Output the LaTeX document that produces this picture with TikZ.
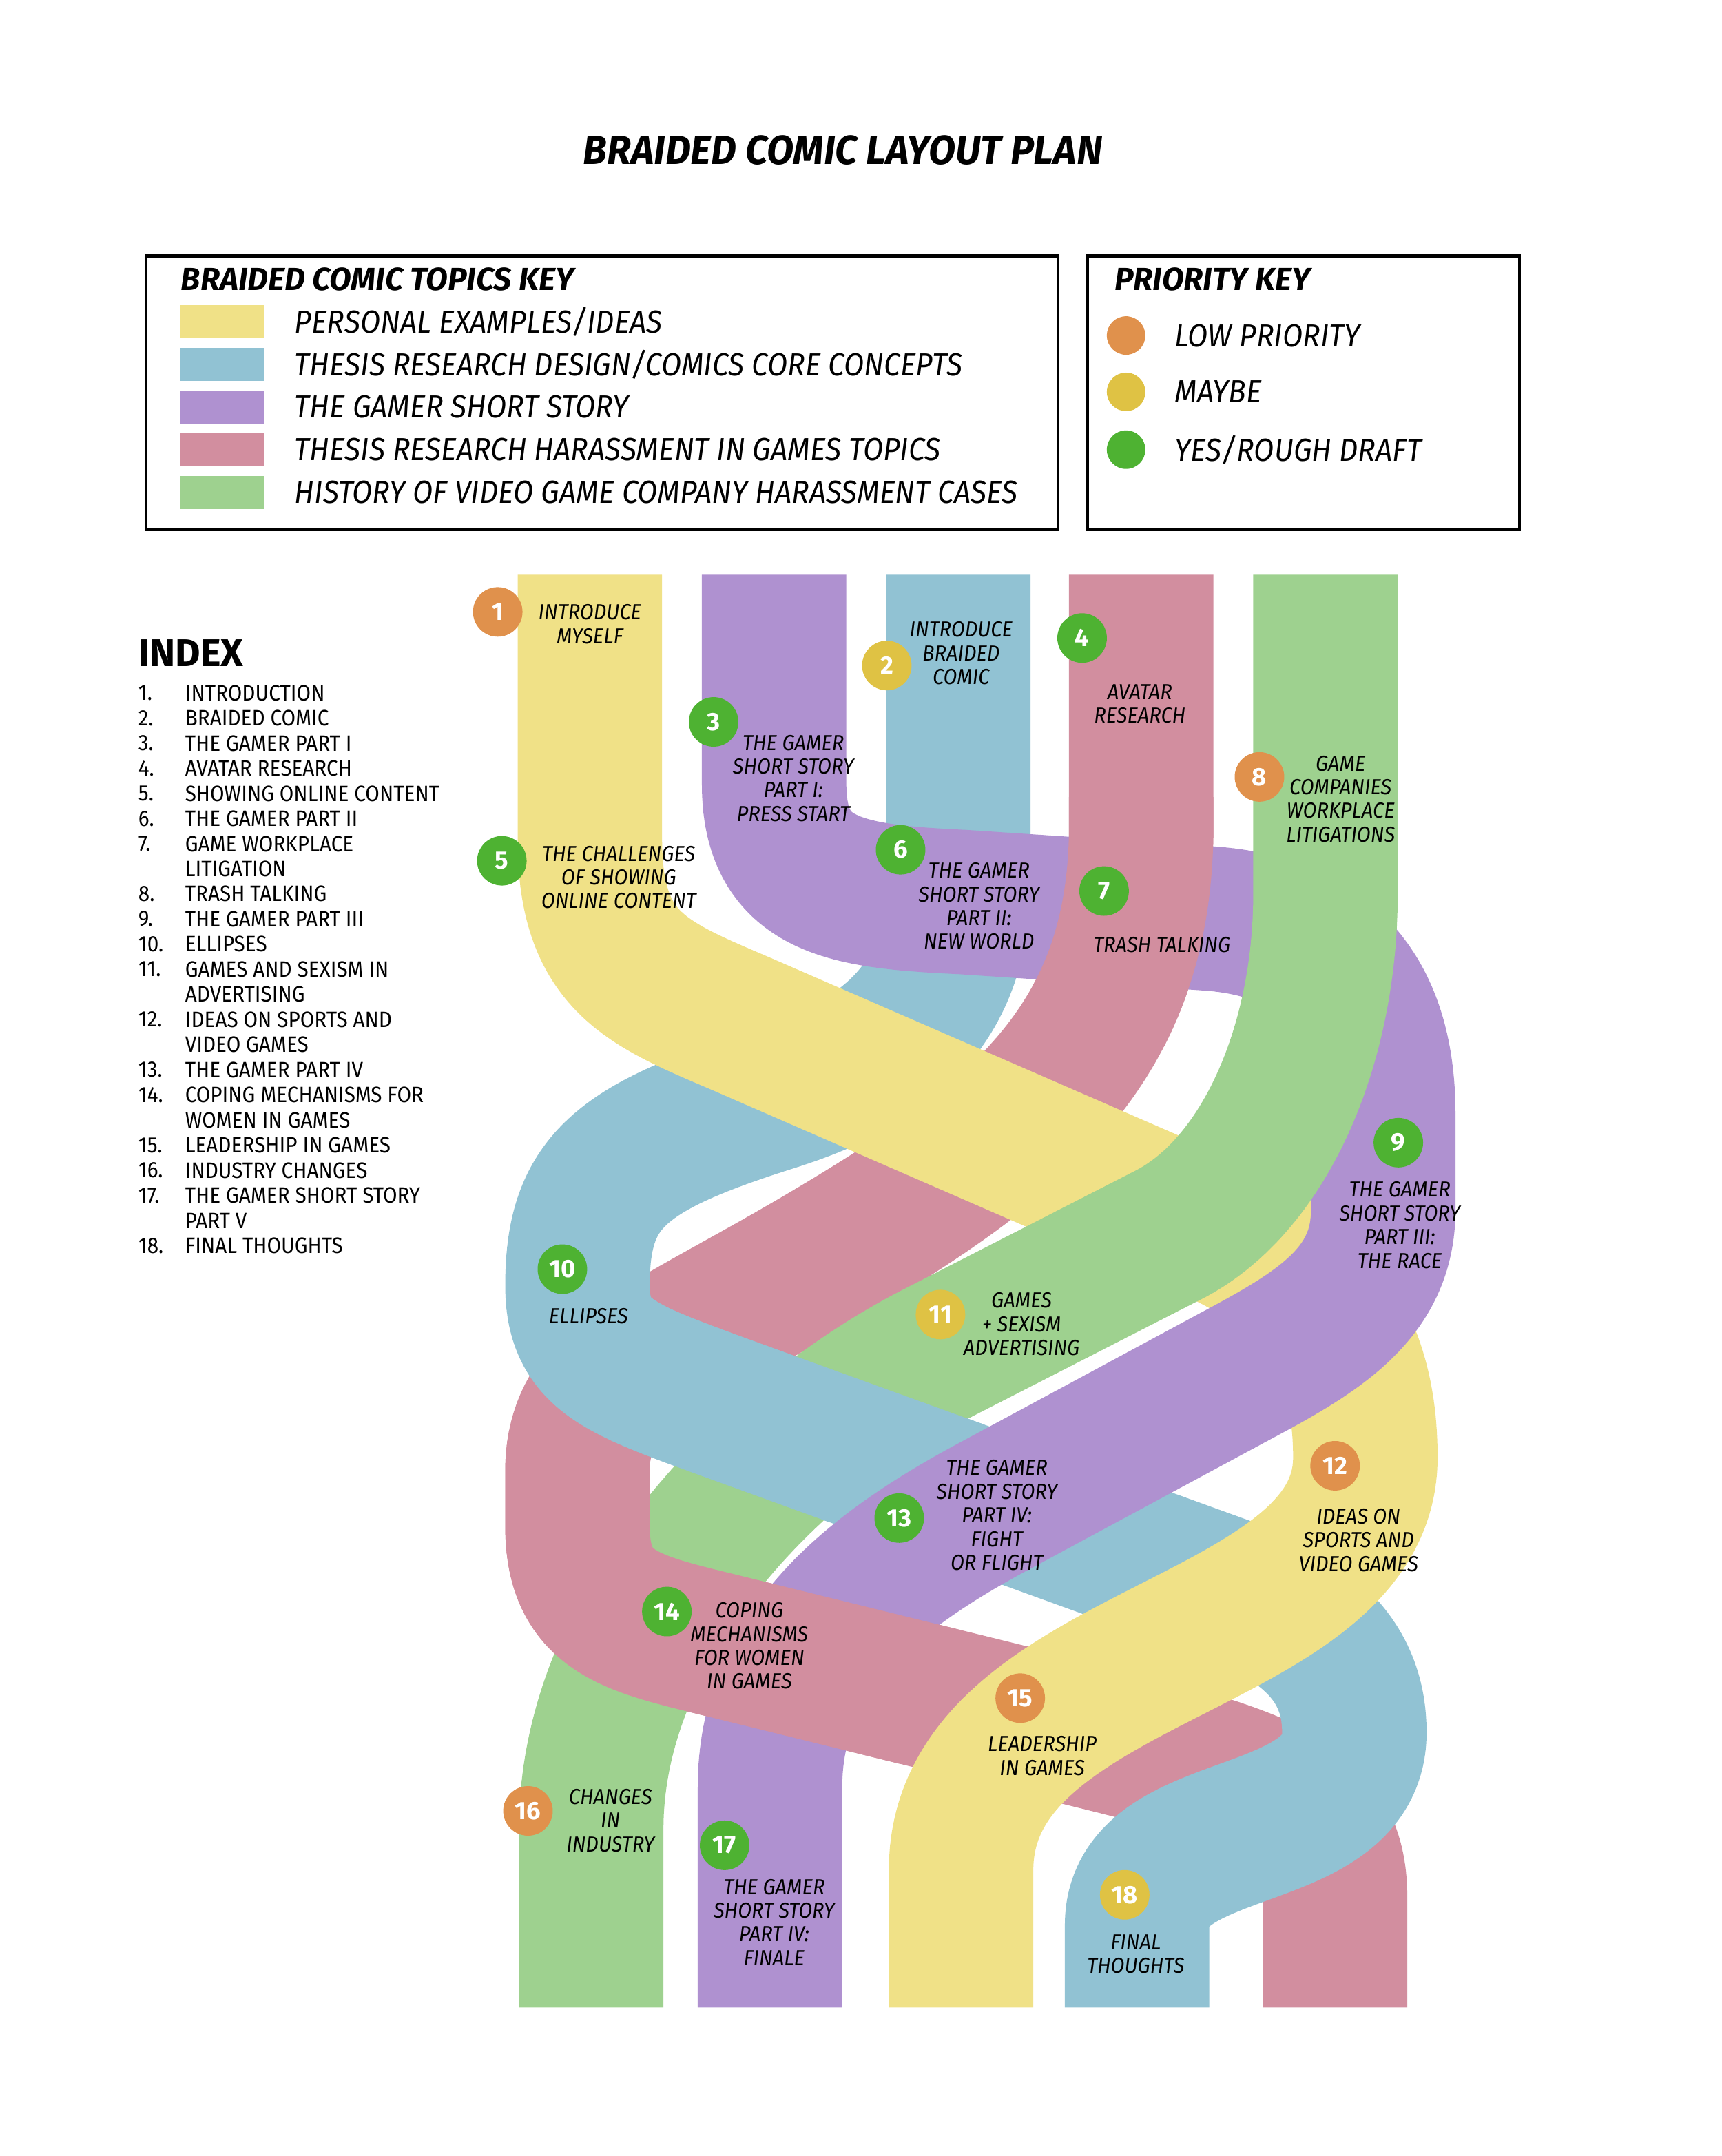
\documentclass[tikz,border=0pt]{standalone}
\usepackage{fontspec}
\setmainfont{Fira Sans}
\usetikzlibrary{positioning}
\usepackage{xcolor}
\definecolor{ryellow}{HTML}{F0E187}
\definecolor{rblue}{HTML}{91C2D3}
\definecolor{rpurple}{HTML}{AF91D0}
\definecolor{rpink}{HTML}{D28E9F}
\definecolor{rgreen}{HTML}{9ED18F}
\definecolor{plow}{HTML}{E0914C}
\definecolor{pmaybe}{HTML}{DFC244}
\definecolor{pyes}{HTML}{4EB232}
\tikzset{
  ribbon/.style={line width=10.5mm,line cap=butt,line join=round},
  badge/.style={circle,minimum size=3.6mm,inner sep=0pt,text=white,font=\fontsize{5.2}{5.2}\selectfont\bfseries},
  lbl/.style={align=center,inner sep=0pt,xscale=0.92,font=\fontsize{4.5}{4.9}\selectfont\itshape},
  maintitle/.style={inner sep=0pt,xscale=0.97,font=\fontsize{8.4}{9}\selectfont\bfseries\itshape},
  keybox/.style={draw,line width=0.6pt,anchor=north west,inner sep=0pt},
  keyhead/.style={anchor=west,inner sep=0pt,xscale=1.0,font=\fontsize{6.6}{7}\selectfont\bfseries\itshape},
  keytxt/.style={anchor=west,inner sep=0pt,xscale=0.92,font=\fontsize{6.6}{7}\selectfont\itshape},
  swatch/.style={minimum width=6.1mm,minimum height=2.4mm,inner sep=0pt},
  pdot/.style={circle,minimum size=2.8mm,inner sep=0pt},
  idxhead/.style={anchor=west,inner sep=0pt,xscale=1.0,font=\fontsize{8}{8.5}\selectfont\bfseries},
  idx/.style={anchor=west,inner sep=0pt,xscale=0.92,font=\fontsize{4.6}{5}\selectfont}
}
\newcommand\pathYellow{(429,418) -- (429,610) .. controls (429,700) and (470,715) .. (540,745) -- (880,893) .. controls (960,928) and (993,980) .. (993,1060) .. controls (993,1200) and (699,1200) .. (699,1360) -- (699,1460)}
\newcommand\pathBlue{(697,418) -- (697,640) .. controls (697,735) and (640,775) .. (560,800) .. controls (450,835) and (420,860) .. (420,935) .. controls (420,985) and (450,995) .. (520,1021) -- (890,1155) .. controls (960,1180) and (985,1215) .. (985,1260) .. controls (985,1345) and (827,1320) .. (827,1400) -- (827,1460)}
\newcommand\pathPurple{(563,418) -- (563,570) .. controls (563,645) and (615,652) .. (700,656) -- (880,668) .. controls (975,675) and (1006,735) .. (1006,810) -- (1006,880) .. controls (1006,940) and (960,968) .. (900,1000) -- (720,1097) .. controls (620,1151) and (560,1210) .. (560,1300) -- (560,1460)}
\newcommand\pathPink{(830,418) -- (830,600) .. controls (830,760) and (740,830) .. (600,913) .. controls (480,984) and (420,1000) .. (420,1070) -- (420,1110) .. controls (420,1175) and (462,1181) .. (530,1198) -- (790,1262) .. controls (920,1294) and (971,1310) .. (971,1380) -- (971,1460)}
\newcommand\pathGreen{(964,418) -- (964,650) .. controls (964,760) and (920,862) .. (850,898) -- (680,985) .. controls (560,1047) and (430,1180) .. (430,1330) -- (430,1460)}

\begin{document}
\begin{tikzpicture}[x=0.01cm,y=-0.01cm]
    \useasboundingbox (0,0) rectangle (1252,1568);
    \node[maintitle] (title) at (613,109) {BRAIDED COMIC LAYOUT PLAN};

    \node[keybox,minimum width=6.63cm,minimum height=1.99cm] (topics) at (105,185) {};
    \node[keyhead] (topicshead) at (131,203) {BRAIDED COMIC TOPICS KEY};
    \node[swatch,fill=ryellow] (s1) at (161.5,234) {};
    \node[swatch,fill=rblue] (s2) at (161.5,265) {};
    \node[swatch,fill=rpurple] (s3) at (161.5,296) {};
    \node[swatch,fill=rpink] (s4) at (161.5,327) {};
    \node[swatch,fill=rgreen] (s5) at (161.5,358) {};
    \node[keytxt,right=2.1mm of s1] (k1) {PERSONAL EXAMPLES/IDEAS};
    \node[keytxt,right=2.1mm of s2] (k2) {THESIS RESEARCH DESIGN/COMICS CORE CONCEPTS};
    \node[keytxt,right=2.1mm of s3] (k3) {THE GAMER SHORT STORY};
    \node[keytxt,right=2.1mm of s4] (k4) {THESIS RESEARCH HARASSMENT IN GAMES TOPICS};
    \node[keytxt,right=2.1mm of s5] (k5) {HISTORY OF VIDEO GAME COMPANY HARASSMENT CASES};

    \node[keybox,minimum width=3.14cm,minimum height=1.99cm] (priority) at (790,185) {};
    \node[keyhead] (priohead) at (810,203) {PRIORITY KEY};
    \node[pdot,fill=plow] (p1) at (819,244) {};
    \node[pdot,fill=pmaybe] (p2) at (819,285) {};
    \node[pdot,fill=pyes] (p3) at (819,327) {};
    \node[keytxt,right=2mm of p1] (q1) {LOW PRIORITY};
    \node[keytxt,right=2mm of p2] (q2) {MAYBE};
    \node[keytxt,right=2mm of p3] (q3) {YES/ROUGH DRAFT};

    \node[idxhead] (index) at (100,475) {INDEX};
    \foreach \num/\txt [count=\k from 0] in {1./INTRODUCTION, 2./BRAIDED COMIC, 3./THE GAMER PART I, 4./AVATAR RESEARCH, 5./SHOWING ONLINE CONTENT, 6./THE GAMER PART II, 7./GAME WORKPLACE, {}/LITIGATION, 8./TRASH TALKING, 9./THE GAMER PART III, 10./ELLIPSES, 11./GAMES AND SEXISM IN, {}/ADVERTISING, 12./IDEAS ON SPORTS AND, {}/VIDEO GAMES, 13./THE GAMER PART IV, 14./COPING MECHANISMS FOR, {}/WOMEN IN GAMES, 15./LEADERSHIP IN GAMES, 16./INDUSTRY CHANGES, 17./THE GAMER SHORT STORY, {}/PART V, 18./FINAL THOUGHTS}{
        \node[idx] (n\k) at (100,{504+18.27*\k}) {\num};
        \node[idx] (e\k) at (134,{504+18.27*\k}) {\txt};
    }

    \draw[ribbon,rpink] \pathPink;
    \draw[ribbon,rblue] \pathBlue;
    \draw[ribbon,ryellow] \pathYellow;
    \draw[ribbon,rpurple] \pathPurple;
    \draw[ribbon,rgreen] \pathGreen;
    \begin{scope}
        \clip (752,580) rectangle (902,760);
        \draw[ribbon,rpink] \pathPink;
    \end{scope}
    \begin{scope}
        \clip (450,930) -- (820,935) -- (820,978) -- (720,1032) -- (660,1068) -- (618,1095) -- (590,1115) -- (440,1115) -- cycle;
        \draw[ribbon,rblue] \pathBlue;
    \end{scope}
    \begin{scope}
        \clip (340,1040) -- (385,1040) -- (430,1055) -- (480,1072) -- (525,1092) -- (600,1122) -- (700,1160) -- (700,1195) -- (664,1262) -- (645,1305) -- (340,1305) -- cycle;
        \draw[ribbon,rpink] \pathPink;
    \end{scope}

    \node[badge,fill=plow] (b1) at (362,445) {1};
    \node[badge,fill=pmaybe] (b2) at (645,484) {2};
    \node[badge,fill=pyes] (b3) at (519,525) {3};
    \node[badge,fill=pyes] (b4) at (787,464) {4};
    \node[badge,fill=pyes] (b5) at (365,626) {5};
    \node[badge,fill=pyes] (b6) at (655,618) {6};
    \node[badge,fill=pyes] (b7) at (803,648) {7};
    \node[badge,fill=plow] (b8) at (916,565) {8};
    \node[badge,fill=pyes] (b9) at (1017,831) {9};
    \node[badge,fill=pyes] (b10) at (409,923) {10};
    \node[badge,fill=pmaybe] (b11) at (684,956) {11};
    \node[badge,fill=plow] (b12) at (971,1066) {12};
    \node[badge,fill=pyes] (b13) at (654,1104) {13};
    \node[badge,fill=pyes] (b14) at (485,1172) {14};
    \node[badge,fill=plow] (b15) at (742,1235) {15};
    \node[badge,fill=plow] (b16) at (384,1317) {16};
    \node[badge,fill=pyes] (b17) at (527,1342) {17};
    \node[badge,fill=pmaybe] (b18) at (818,1378) {18};

    \node[lbl] (t1) at (429,454) {INTRODUCE\\MYSELF};
    \node[lbl] (t2) at (699,475) {INTRODUCE\\BRAIDED\\COMIC};
    \node[lbl] (t3) at (577,566) {THE GAMER\\SHORT STORY\\PART I:\\PRESS START};
    \node[lbl] (t4) at (829,512) {AVATAR\\RESEARCH};
    \node[lbl] (t5) at (450,638) {THE CHALLENGES\\OF SHOWING\\ONLINE CONTENT};
    \node[lbl] (t6) at (712,659) {THE GAMER\\SHORT STORY\\PART II:\\NEW WORLD};
    \node[lbl] (t7) at (845,687) {TRASH TALKING};
    \node[lbl] (t8) at (975,581) {GAME\\COMPANIES\\WORKPLACE\\LITIGATIONS};
    \node[lbl] (t9) at (1018,891) {THE GAMER\\SHORT STORY\\PART III:\\THE RACE};
    \node[lbl] (t10) at (428,957) {ELLIPSES};
    \node[lbl] (t11) at (743,963) {GAMES\\+ SEXISM\\ADVERTISING};
    \node[lbl] (t12) at (988,1120) {IDEAS ON\\SPORTS AND\\VIDEO GAMES};
    \node[lbl] (t13) at (725,1102) {THE GAMER\\SHORT STORY\\PART IV:\\FIGHT\\OR FLIGHT};
    \node[lbl] (t14) at (545,1197) {COPING\\MECHANISMS\\FOR WOMEN\\IN GAMES};
    \node[lbl] (t15) at (758,1277) {LEADERSHIP\\IN GAMES};
    \node[lbl] (t16) at (444,1324) {CHANGES\\IN\\INDUSTRY};
    \node[lbl] (t17) at (563,1398) {THE GAMER\\SHORT STORY\\PART IV:\\FINALE};
    \node[lbl] (t18) at (826,1421) {FINAL\\THOUGHTS};
\end{tikzpicture}
\end{document}
